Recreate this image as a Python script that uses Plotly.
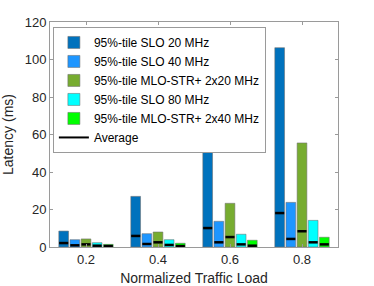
import plotly.graph_objects as go

loads = [0.2, 0.4, 0.6, 0.8]
series_names = ["95%-tile SLO 20 MHz", "95%-tile SLO 40 MHz", "95%-tile MLO-STR+ 2x20 MHz",
                "95%-tile SLO 80 MHz", "95%-tile MLO-STR+ 2x40 MHz"]
p95_slo20 = [8.5, 27.0, 56.9, 106.3]
p95_slo40 = [3.9, 7.1, 13.7, 23.8]
p95_mlo2x20 = [4.3, 8.0, 23.3, 55.5]
p95_slo80 = [2.3, 3.9, 6.8, 14.2]
p95_mlo2x40 = [1.4, 2.0, 3.6, 5.2]
avg_slo20 = [2.1, 5.9, 10.1, 18.1]
avg_slo40 = [0.9, 1.6, 2.5, 4.3]
avg_mlo2x20 = [1.4, 2.5, 5.3, 8.4]
avg_slo80 = [0.7, 1.1, 1.4, 2.5]
avg_mlo2x40 = [0.5, 0.5, 0.7, 1.4]
colors = ["#0072BD", "#1E96FF", "#77AC30", "#00FFFF", "#00FF00"]

p95 = [p95_slo20, p95_slo40, p95_mlo2x20, p95_slo80, p95_mlo2x40]
avgs = [avg_slo20, avg_slo40, avg_mlo2x20, avg_slo80, avg_mlo2x40]

pitch = 0.031
bw = 0.027
fig = go.Figure()
for i, (name, vals, col) in enumerate(zip(series_names, p95, colors)):
    xs = [l + (i - 2) * pitch for l in loads]
    fig.add_trace(go.Bar(x=xs, y=vals, width=bw, name=name, marker=dict(color=col,
                         line=dict(color="rgba(110,110,110,0.55)", width=1))))
for i, a in enumerate(avgs):
    xs = [l + (i - 2) * pitch for l in loads]
    fig.add_trace(go.Scatter(x=xs, y=a, mode="markers", showlegend=False, hoverinfo="skip",
                             marker=dict(symbol="line-ew", size=6.5, line=dict(color="black", width=2.5))))
fig.add_trace(go.Scatter(x=[None], y=[None], mode="lines", name="Average",
                         line=dict(color="black", width=2)))

axis_common = dict(showline=True, linecolor="#9a9a9a", linewidth=1, mirror="ticks", ticks="inside",
                   ticklen=3, tickcolor="#9a9a9a", showgrid=False, zeroline=False, automargin=False,
                   tickfont=dict(size=13, color="#262626"))
fig.update_layout(
    width=374, height=286, margin=dict(l=50, r=36, t=22, b=39),
    barmode="overlay", plot_bgcolor="white", paper_bgcolor="white",
    font=dict(family="Liberation Sans, Arial", color="#262626"),
    xaxis=dict(range=[0.1, 0.9], tickvals=loads, ticktext=["0.2", "0.4", "0.6", "0.8"],
               title=dict(text="Normalized Traffic Load", font=dict(size=14)), **axis_common),
    yaxis=dict(range=[0, 120], tickvals=[0, 20, 40, 60, 80, 100, 120],
               title=dict(text="Latency (ms)", font=dict(size=14)), **axis_common),
    legend=dict(x=0.01, y=0.978, xanchor="left", yanchor="top", bgcolor="white",
                bordercolor="#9a9a9a", borderwidth=1, font=dict(size=12, color="black"),
                tracegroupgap=0, itemwidth=30),
)
fig.write_html("out.html", config={"displayModeBar": False},
               post_script="document.body.style.margin='0';")
